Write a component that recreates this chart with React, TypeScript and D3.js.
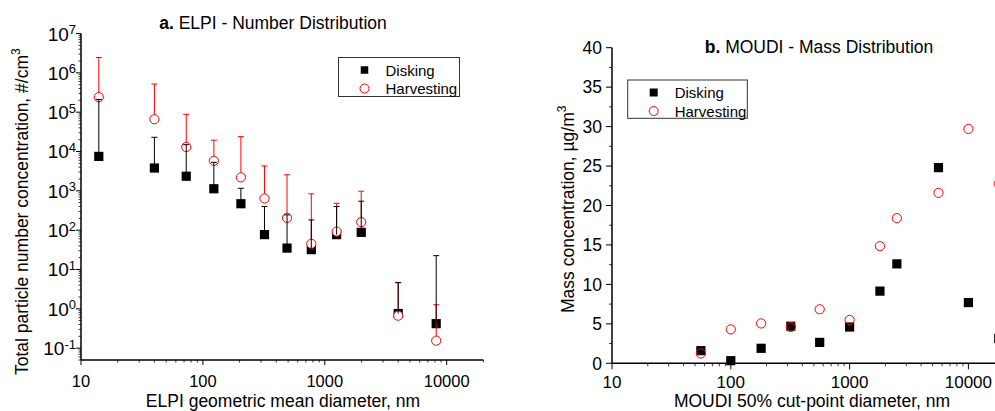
import React from "react"
import * as d3 from "d3"

// ELPI stage geometric mean diameters (nm) and number concentrations (#/cm3)
const elpiDiameter = [14, 40, 73, 123, 205, 320, 490, 775, 1250, 1990, 4000, 8200]
const elpiDisking = [7500, 3800, 2350, 1130, 470, 77, 35, 32, 77, 88, 0.76, 0.42]
const elpiDiskingUpper = [210000, 23000, 14900, 5300, 1160, 400, 245, 182, 398, 545, 4.6, 22.5]
const elpiHarvesting = [240000, 66000, 13000, 5800, 2200, 640, 205, 45, 92, 160, 0.67, 0.155]
const elpiHarvestingUpper = [2450000, 520000, 88000, 19400, 23800, 4300, 2560, 840, 483, 977, 4.7, 1.27]

// MOUDI 50% cut-point diameters (nm) and mass concentrations (ug/m3)
const moudiCutpoint = [56, 100, 180, 320, 560, 1000, 1800, 2500, 5600, 10000, 18000]
const moudiDisking = [1.6, 0.33, 1.9, 4.7, 2.65, 4.6, 9.15, 12.6, 24.8, 7.7, 3.15]
const moudiHarvesting = [1.25, 4.3, 5.05, 4.6, 6.85, 5.5, 14.85, 18.4, 21.6, 29.7, 22.75]

const xTickValues = [10, 100, 1000, 10000]
const logExponents = [-1, 0, 1, 2, 3, 4, 5, 6, 7]
const massTicks = [0, 5, 10, 15, 20, 25, 30, 35, 40]
const seriesNames = ["Disking", "Harvesting"]

const font = "'Liberation Sans', Arial, sans-serif"

// log minor ticks (2..9 per decade) inside a domain
function logMinors(lo: number, hi: number) {
  const out: number[] = []
  for (let e = -3; e <= 8; e++) {
    for (let m = 2; m <= 9; m++) {
      const v = m * Math.pow(10, e)
      if (v >= lo && v <= hi) out.push(v)
    }
  }
  return out
}

function Legend({ x, y, w, h, sq }: { x: number; y: number; w: number; h: number; sq: number }) {
  return (
    <g>
      <rect x={x} y={y} width={w} height={h} fill="white" stroke="#333" strokeWidth={1} />
      <rect x={x + 26 - sq / 2} y={y + 12.5 - sq / 2} width={sq} height={sq} fill="black" />
      <circle cx={x + 26} cy={y + 31} r={4.5} fill="none" stroke="red" strokeWidth={1} />
      <text x={x + 47} y={y + 18} fontSize={15}>{seriesNames[0]}</text>
      <text x={x + 47} y={y + 36.5} fontSize={15}>{seriesNames[1]}</text>
    </g>
  )
}

function PanelA() {
  const x = d3.scaleLog().domain([10, 20000]).range([81, 483.4])
  const y = d3.scaleLog().domain([0.05, 1e7]).range([360, 33.5])
  const [x0, x1] = x.range()
  const [y0, y1] = y.range()
  return (
    <g>
      <text x={273} y={29} fontSize={17.5} textAnchor="middle">
        <tspan fontWeight="bold">a.</tspan> ELPI - Number Distribution
      </text>

      {/* axes */}
      <line x1={x0} x2={x0} y1={y0} y2={y1} stroke="black" strokeWidth={1.5} />
      <line x1={x0} x2={x1} y1={y0} y2={y0} stroke="black" strokeWidth={1.5} />
      {logExponents.map(e => {
        const ty = y(Math.pow(10, e))
        return (
          <g key={"ly" + e}>
            <line x1={x0 - 5} x2={x0} y1={ty} y2={ty} stroke="black" strokeWidth={1} />
            <text x={76} y={ty + 7} fontSize={19} textAnchor="end">
              10<tspan dy={-6.5} fontSize={13}>{e}</tspan>
            </text>
          </g>
        )
      })}
      {logMinors(0.05, 1e7).map((v, i) => (
        <line key={"lym" + i} x1={x0 - 2.5} x2={x0} y1={y(v)} y2={y(v)} stroke="black" strokeWidth={0.8} />
      ))}
      {xTickValues.map(v => (
        <g key={"lx" + v}>
          <line x1={x(v)} x2={x(v)} y1={y0} y2={y0 + 5} stroke="black" strokeWidth={1} />
          <text x={x(v)} y={387} fontSize={16.5} textAnchor="middle">{v}</text>
        </g>
      ))}
      {logMinors(10, 20000).map((v, i) => (
        <line key={"lxm" + i} x1={x(v)} x2={x(v)} y1={y0} y2={y0 + 2.5} stroke="black" strokeWidth={0.8} />
      ))}

      <text x={283} y={407} fontSize={17.5} textAnchor="middle">ELPI geometric mean diameter, nm</text>
      <text transform="translate(28,375) rotate(-90)" fontSize={17.5}>
        Total particle number concentration, #/cm<tspan dy={-8} fontSize={12}>3</tspan>
      </text>

      {/* markers */}
      {elpiDiameter.map((d, i) => (
        <rect key={"ds" + i} x={x(d) - 4.6} y={y(elpiDisking[i]) - 4.6} width={9.2} height={9.2} fill="black" />
      ))}
      {elpiDiameter.map((d, i) => (
        <circle key={"hc" + i} cx={x(d)} cy={y(elpiHarvesting[i])} r={4.6} fill="white" stroke="red" strokeWidth={1} />
      ))}
      {/* upper error bars */}
      {elpiDiameter.map((d, i) => (
        <g key={"he" + i} stroke="red" strokeWidth={1}>
          <line x1={x(d)} x2={x(d)} y1={y(elpiHarvesting[i]) - 4.6} y2={y(elpiHarvestingUpper[i])} />
          <line x1={x(d) - 3} x2={x(d) + 3} y1={y(elpiHarvestingUpper[i])} y2={y(elpiHarvestingUpper[i])} />
        </g>
      ))}
      {elpiDiameter.map((d, i) => (
        <g key={"de" + i} stroke="black" strokeWidth={1}>
          <line x1={x(d)} x2={x(d)} y1={y(elpiDisking[i])} y2={y(elpiDiskingUpper[i])} />
          <line x1={x(d) - 3} x2={x(d) + 3} y1={y(elpiDiskingUpper[i])} y2={y(elpiDiskingUpper[i])} />
        </g>
      ))}

      <Legend x={338.5} y={57.5} w={121} h={39} sq={7.5} />
    </g>
  )
}

function PanelB() {
  const x = d3.scaleLog().domain([10, 20000]).range([612, 612 + 118.8 * Math.log10(2000)])
  const y = d3.scaleLinear().domain([0, 40]).range([363.3, 47.7])
  const [x0, x1] = x.range()
  const [y0, y1] = y.range()
  return (
    <g>
      <text x={819} y={53} fontSize={17.5} textAnchor="middle">
        <tspan fontWeight="bold">b.</tspan> MOUDI - Mass Distribution
      </text>

      <line x1={x0} x2={x0} y1={y0} y2={y1} stroke="black" strokeWidth={1.5} />
      <line x1={x0} x2={x1} y1={y0} y2={y0} stroke="black" strokeWidth={1.5} />
      {massTicks.map(v => (
        <g key={"ry" + v}>
          <line x1={x0 - 6} x2={x0} y1={y(v)} y2={y(v)} stroke="black" strokeWidth={1} />
          <text x={602} y={y(v) + 6.3} fontSize={17.5} textAnchor="end">{v}</text>
        </g>
      ))}
      {massTicks.slice(0, -1).map(v => (
        <line key={"rym" + v} x1={x0 - 3} x2={x0} y1={y(v + 2.5)} y2={y(v + 2.5)} stroke="black" strokeWidth={0.8} />
      ))}
      {xTickValues.map(v => (
        <g key={"rx" + v}>
          <line x1={x(v)} x2={x(v)} y1={y0} y2={y0 + 6} stroke="black" strokeWidth={1} />
          <text x={x(v)} y={388} fontSize={17} textAnchor="middle">{v}</text>
        </g>
      ))}
      {logMinors(10, 20000).map((v, i) => (
        <line key={"rxm" + i} x1={x(v)} x2={x(v)} y1={y0} y2={y0 + 3} stroke="black" strokeWidth={0.8} />
      ))}

      <text x={812} y={407} fontSize={17.5} textAnchor="middle">MOUDI 50% cut-point diameter, nm</text>
      <text transform="translate(574,313) rotate(-90)" fontSize={17.5}>
        Mass concentration, µg/m<tspan dy={-8} fontSize={12}>3</tspan>
      </text>

      {moudiCutpoint.map((d, i) => (
        <rect key={"ms" + i} x={x(d) - 4.6} y={y(moudiDisking[i]) - 4.6} width={9.2} height={9.2} fill="black" />
      ))}
      {moudiCutpoint.map((d, i) => (
        <circle key={"mc" + i} cx={x(d)} cy={y(moudiHarvesting[i])} r={4.6} fill="none" stroke="red" strokeWidth={1} />
      ))}

      <Legend x={627.7} y={80} w={119.6} h={38.3} sq={8} />
    </g>
  )
}

export default function App() {
  return (
    <svg
      width={995}
      height={411}
      style={{ position: "absolute", left: 0, top: 0, background: "white" }}
      fontFamily={font}
    >
      <rect width={995} height={411} fill="white" />
      <PanelA />
      <PanelB />
    </svg>
  )
}
